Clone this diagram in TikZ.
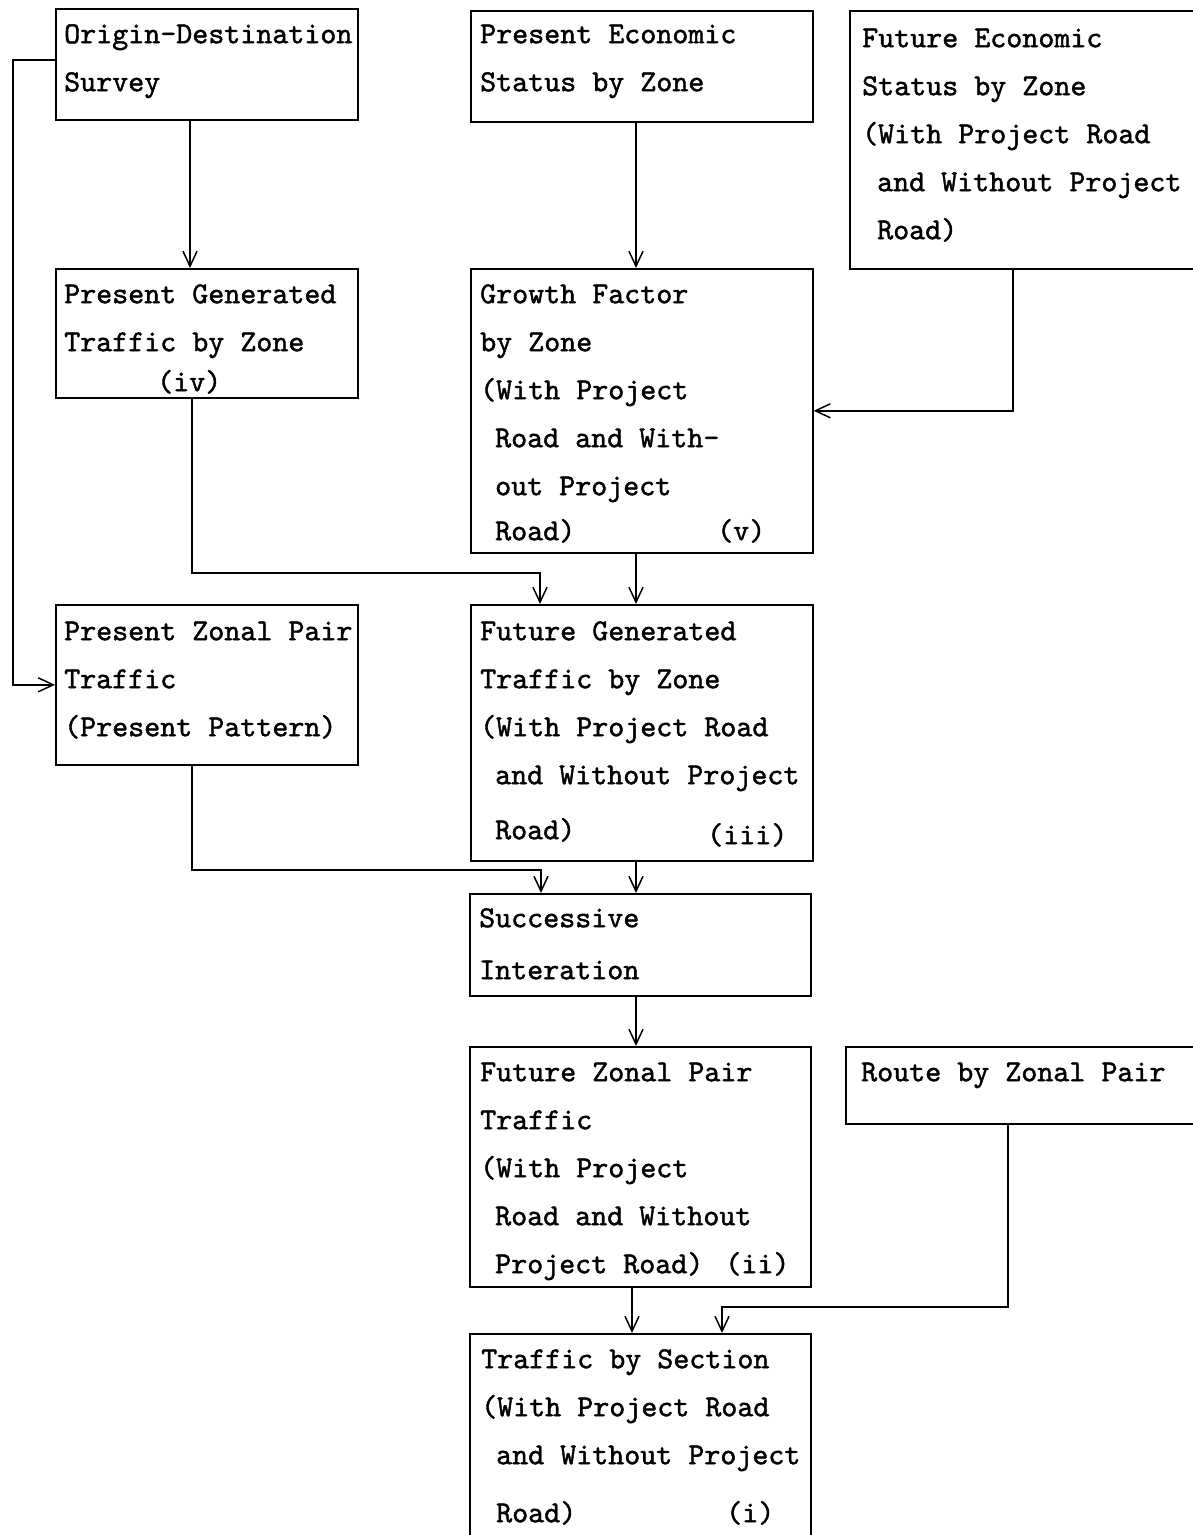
\documentclass[tikz,border=0pt]{standalone}
\usepackage{fontspec}
\usetikzlibrary{arrows.meta}
\newfontfamily\twfont{lmmono10-regular.otf}[FakeBold=1.4]
\newcommand\ind{\hspace*{15pt}}
\begin{document}
\begin{tikzpicture}[x=1pt,y=-1pt,
  box/.style={draw=black,line width=1.6pt,rectangle,inner sep=0pt,anchor=north west},
  txt/.style={anchor=north west,inner sep=0pt,align=left,
    font=\twfont\fontsize{30.5}{48}\selectfont},
  arr/.style={draw=black,line width=1.5pt,-{Straight Barb[length=15pt,width=14pt,line width=1.5pt]}}]
\useasboundingbox (0,0) rectangle (1193,1535);
\fill[white] (0,0) rectangle (1193,1535);
% boxes
\node[box,minimum width=302pt,minimum height=111pt] (b1) at (55,8) {};
\node[box,minimum width=342pt,minimum height=111pt] (b2) at (470,10) {};
\node[box,minimum width=351pt,minimum height=258pt] (b3) at (849,10) {};
\node[box,minimum width=302pt,minimum height=129pt] (b4) at (55,268) {};
\node[box,minimum width=342pt,minimum height=284pt] (b5) at (470,268) {};
\node[box,minimum width=302pt,minimum height=160pt] (b6) at (55,604) {};
\node[box,minimum width=342pt,minimum height=256pt] (b7) at (470,604) {};
\node[box,minimum width=341pt,minimum height=102pt] (b8) at (469,893) {};
\node[box,minimum width=341pt,minimum height=240pt] (b9) at (469,1046) {};
\node[box,minimum width=355pt,minimum height=77pt] (b10) at (845,1046) {};
\node[box,minimum width=341pt,minimum height=212pt] (b11) at (469,1333) {};
% texts
\node[txt] (t1) at (64,17) {\rule{0pt}{26pt}Origin-Destination\\Survey};
\node[txt] (t2) at (480,17) {\rule{0pt}{26pt}Present Economic\\Status by Zone};
\node[txt] (t3) at (862,21) {\rule{0pt}{26pt}Future Economic\\Status by Zone\\(With Project Road\\\ind and Without Project\\\ind Road)};
\node[txt] (t4) at (64,277) {\rule{0pt}{26pt}Present Generated\\Traffic by Zone\\[-8pt]\hspace*{93pt}(iv)};
\node[txt] (t5) at (480,277) {\rule{0pt}{26pt}Growth Factor\\by Zone\\(With Project\\\ind Road and With-\\\ind out Project\\[-3pt]\ind Road)\hspace{142pt}(v)};
\node[txt] (t6) at (64,614) {\rule{0pt}{26pt}Present Zonal Pair\\Traffic\\(Present Pattern)};
\node[txt] (t7) at (480,614) {\rule{0pt}{26pt}Future Generated\\Traffic by Zone\\(With Project Road\\\ind and Without Project\\[7pt]\ind Road)\hspace{132pt}\raisebox{-5pt}{(iii)}};
\node[txt] (t8) at (479,901) {\rule{0pt}{26pt}Successive\\[4pt]Interation};
\node[txt] (t9) at (480,1055) {\rule{0pt}{26pt}Future Zonal Pair\\Traffic\\(With Project\\\ind Road and Without\\\ind Project Road)\hspace{22pt}(ii)};
\node[txt] (t10) at (861,1055) {\rule{0pt}{26pt}Route by Zonal Pair};
\node[txt] (t11) at (481,1342) {\rule{0pt}{26pt}Traffic by Section\\(With Project Road\\\ind and Without Project\\[10pt]\ind Road)\hspace{150pt}(i)};
% helper coordinates
\coordinate (cA) at (190,0);
\coordinate (cL) at (13,0);
\coordinate (yL) at (0,60);
\coordinate (cM) at (636,0);
\coordinate (cM2) at (632,0);
\coordinate (cR) at (1013,0);
\coordinate (cR2) at (1008,0);
\coordinate (j1) at (192,573);
\coordinate (j1b) at (540,573);
\coordinate (j2) at (192,870);
\coordinate (j2b) at (541,870);
\coordinate (j3) at (722,1307);
% connectors
\draw[arr] (b1.south -| cA) -- (b4.north -| cA);
\draw[arr] (b1.west |- yL) -- (cL |- yL) -- (cL |- b6.west) -- (b6.west);
\draw[arr] (b2.south -| cM) -- (b5.north -| cM);
\draw[arr] (b3.south -| cR) -- (cR |- b5.east) -- (b5.east);
\draw[arr] (b4.south -| j1) -- (j1) -- (j1b) -- (b7.north -| j1b);
\draw[arr] (b5.south -| cM) -- (b7.north -| cM);
\draw[arr] (b6.south -| j2) -- (j2) -- (j2b) -- (b8.north -| j2b);
\draw[arr] (b7.south -| cM) -- (b8.north -| cM);
\draw[arr] (b8.south -| cM) -- (b9.north -| cM);
\draw[arr] (b9.south -| cM2) -- (b11.north -| cM2);
\draw[arr] (b10.south -| cR2) -- (cR2 |- j3) -- (j3) -- (b11.north -| j3);
\end{tikzpicture}
\end{document}
